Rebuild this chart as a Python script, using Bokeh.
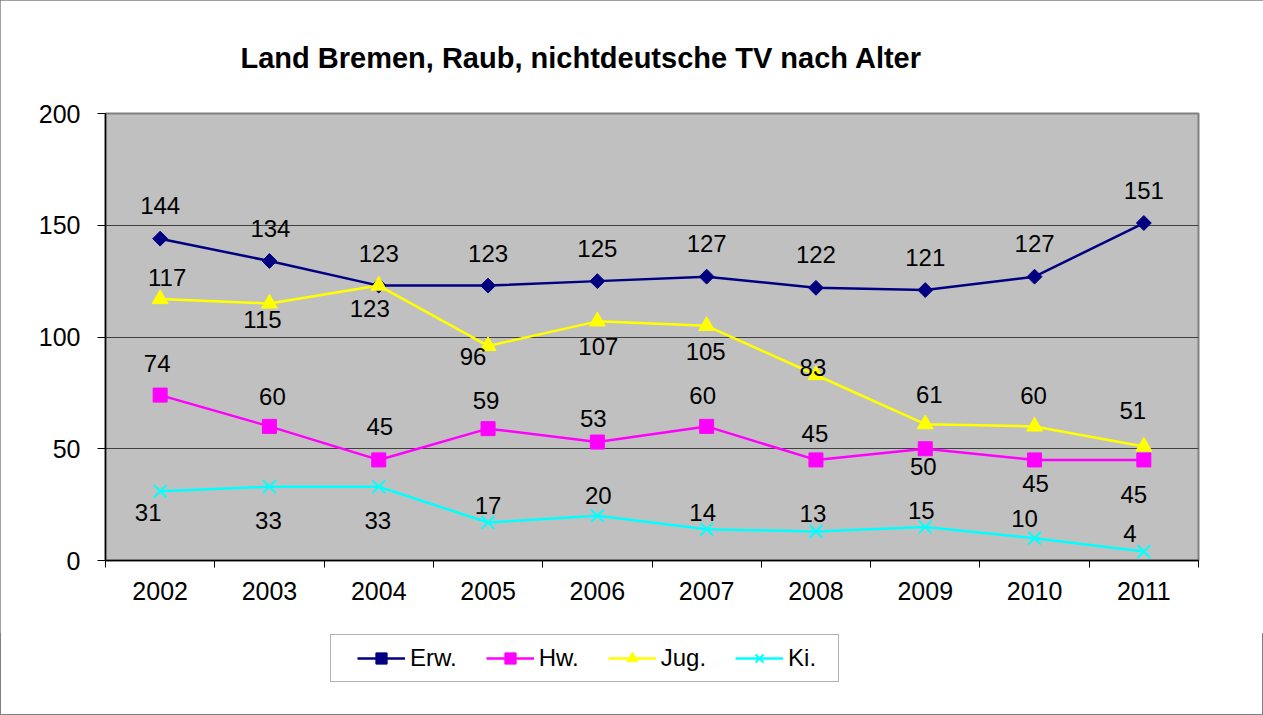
from bokeh.plotting import figure
from bokeh.models import ColumnDataSource, Range1d, FixedTicker, Legend, LegendItem, Spacer
from bokeh.layouts import column, row
from bokeh.core.properties import value
from bokeh.embed import file_html
from bokeh.resources import INLINE

title = "Land Bremen, Raub, nichtdeutsche TV nach Alter"
years = ["2002", "2003", "2004", "2005", "2006", "2007", "2008", "2009", "2010", "2011"]
series_names = ["Erw.", "Hw.", "Jug.", "Ki."]
erw = [144, 134, 123, 123, 125, 127, 122, 121, 127, 151]
hw = [74, 60, 45, 59, 53, 60, 45, 50, 45, 45]
jug = [117, 115, 123, 96, 107, 105, 83, 61, 60, 51]
ki = [31, 33, 33, 17, 20, 14, 13, 15, 10, 4]

# label placement (screen px, positive = down) -- style only
lab_dx = {
    "Erw.": [0, 1, 0, 0, 0, 0, 0, 0, 0, 0],
    "Hw.": [-3, 3, 1, -2, -4, -4, -1, -2, 1, -10],
    "Jug.": [7, -7, -9, -15, 1, -1, -3, 4, -1, -11],
    "Ki.": [-12, -1, -1, 0, 1, -4, -3, -4, -10, -14],
}
lab_dy = {
    "Erw.": [-33, -33, -32, -32, -33, -33, -33, -33, -33, -33],
    "Hw.": [-32, -30, -33, -28, -24, -31, -26, 18, 24, 35],
    "Jug.": [-22, 16, 23, 11, 25, 26, -7, -30, -31, -36],
    "Ki.": [21, 34, 34, -17, -20, -17, -18, -16, -20, -18],
}

FONT = "Liberation Sans"
xs = list(range(len(years)))

p = figure(width=1263, height=633, output_backend="svg", toolbar_location=None,
           x_range=Range1d(-0.5, len(years) - 0.5), y_range=Range1d(0, 200),
           min_border_left=105, min_border_right=65, min_border_top=113, min_border_bottom=73)
p.background_fill_color = "#C0C0C0"
p.border_fill_color = "white"
p.outline_line_color = "#808080"
p.outline_line_width = 2

# title
p.title.text = title
p.title.text_font = FONT
p.title.text_font_size = "29px"
p.title.text_font_style = "bold"
p.title.text_color = "black"
p.title.align = "left"
p.title.offset = 135
p.title.standoff = 79

# axes
p.xaxis.ticker = FixedTicker(ticks=xs, minor_ticks=[i - 0.5 for i in range(len(years) + 1)])
p.xaxis.major_label_overrides = {i: y for i, y in zip(xs, years)}
p.xaxis.major_tick_out = 0
p.xaxis.major_tick_in = 0
p.xaxis.minor_tick_out = 7
p.xaxis.minor_tick_in = 0
p.xaxis.minor_tick_line_color = "black"
p.xaxis.major_label_standoff = 14
p.yaxis.ticker = FixedTicker(ticks=[0, 50, 100, 150, 200])
p.yaxis.major_tick_out = 8
p.yaxis.major_tick_in = 0
p.yaxis.minor_tick_line_color = None
p.yaxis.major_label_standoff = 17
for ax in (p.xaxis, p.yaxis):
    ax.axis_line_color = "black"
    ax.axis_line_width = 1.5
    ax.major_tick_line_color = "black"
    ax.major_label_text_font = FONT
    ax.major_label_text_font_size = "25px"
    ax.major_label_text_color = "black"
p.xgrid.grid_line_color = None
p.ygrid.grid_line_color = "#404040"
p.ygrid.grid_line_width = 1

specs = [
    ("Erw.", erw, "#000080", dict(marker="square", size=10.5, angle=0.785398)),
    ("Hw.", hw, "#FF00FF", dict(marker="square", size=14)),
    ("Jug.", jug, "#FFFF00", dict(marker="triangle", size=16)),
    ("Ki.", ki, "#00FFFF", dict(marker="x", size=18, line_width=2)),
]

# separate small figure that only holds the legend box (its ranges show nothing of the data)
pl = figure(width=512, height=52, output_backend="svg", toolbar_location=None, title=None,
            x_axis_type=None, y_axis_type=None,
            x_range=Range1d(len(years) + 100, len(years) + 101), y_range=Range1d(-101, -100),
            min_border_left=0, min_border_right=0, min_border_top=0, min_border_bottom=0)
pl.background_fill_color = "white"
pl.border_fill_color = "white"
pl.outline_line_color = None
pl.grid.visible = False

items = []
for name, vals, color, mk in specs:
    src = ColumnDataSource(dict(x=xs, y=vals, lab=[str(v) for v in vals],
                                dx=lab_dx[name], dy=lab_dy[name]))
    mk = dict(mk)
    lw = mk.pop("line_width", 1)
    p.line("x", "y", source=src, line_color=color, line_width=2.5)
    p.scatter("x", "y", source=src, fill_color=color, line_color=color,
              line_width=lw, **mk)
    p.text("x", "y", text="lab", source=src, x_offset="dx", y_offset="dy",
           text_font=value(FONT), text_font_size="24px", text_color="black",
           text_align="center", text_baseline="middle")
    # legend proxies in the legend figure (same data, outside its visible ranges)
    ln = pl.line("x", "y", source=src, line_color=color, line_width=2.5)
    sc = pl.scatter("x", "y", source=src, fill_color=color, line_color=color,
                    line_width=lw, **mk)
    items.append(LegendItem(label=name, renderers=[ln, sc]))

legend = Legend(items=items, orientation="horizontal", location="top_left",
                glyph_width=48, glyph_height=28, padding=10, spacing=29, label_standoff=5,
                label_text_font=FONT, label_text_font_size="24px", label_text_color="black",
                border_line_color="#666666", border_line_width=1.5,
                background_fill_color="white", background_fill_alpha=1, margin=1)
try:
    legend.padding = dict(left=26, right=22, top=9, bottom=9)
except Exception:
    pass
try:
    legend.ncols = 4
except Exception:
    pass
pl.add_layout(legend, "center")

layout = column(p, row(Spacer(width=329, height=82), pl))
layout.styles = {"outline": "1px solid #808080", "outline-offset": "-1px"}

open("out.html", "w").write(file_html(layout, INLINE))
